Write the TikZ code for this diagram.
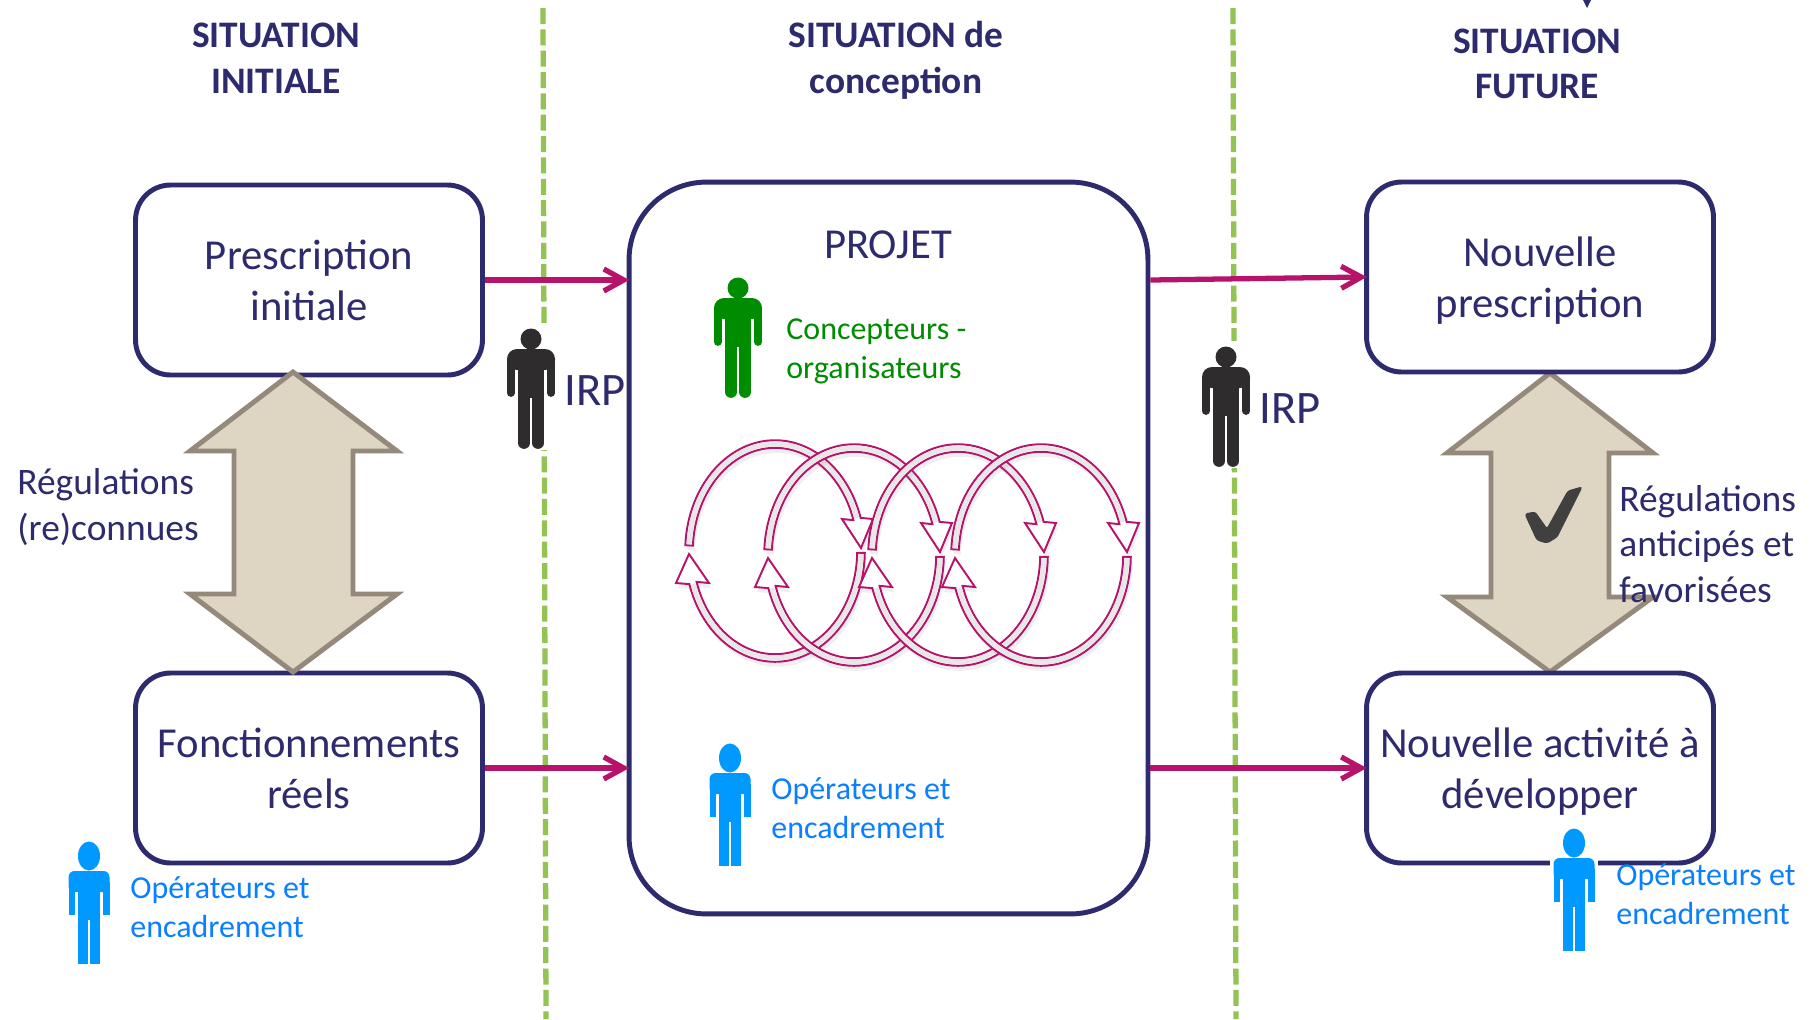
\documentclass[tikz,border=0pt]{standalone}
\usepackage{fontspec}
\setmainfont{Carlito}
\usepackage{tikz}
\usetikzlibrary{arrows.meta,shadows}
\definecolor{Marine}{HTML}{2E2A6E}
\definecolor{Fuchsia}{HTML}{B7136A}
\definecolor{Separ}{HTML}{92C353}
\definecolor{Taupe}{HTML}{94897A}
\definecolor{Sable}{HTML}{DED5C3}
\definecolor{Ciel}{HTML}{0A7FFF}
\definecolor{CielFig}{HTML}{0099FF}
\definecolor{Vert}{HTML}{008C00}
\definecolor{Encre}{HTML}{2F2C2D}
\tikzset{
  every node/.style={
    text=Marine,
    align=left,
    inner sep=0pt
  },
  state/.style={
    shape=rectangle,
    draw=Marine,
    line width=2.8pt,
    fill=white,
    rounded corners=0.7cm,
    minimum width=6.94cm,
    minimum height=3.8cm,
    align=center,
    font=\fontsize{24.3}{29}\selectfont
  },
  project/.style={
    state,
    rounded corners=1.55cm,
    minimum width=10.38cm,
    minimum height=14.64cm
  },
  heading/.style={
    align=center,
    font=\fontsize{21.3}{26}\selectfont\bfseries
  },
  regul/.style={
    anchor=west,
    font=\fontsize{21.3}{26}\selectfont
  },
  crew/.style={
    anchor=west,
    font=\fontsize{18.2}{22.3}\selectfont
  },
  irp/.style={
    anchor=west,
    font=\fontsize{26.5}{30}\selectfont
  },
  flow/.style={
    draw=Fuchsia,
    line width=3pt,
    shorten >=-1.5pt,
    -{Straight Barb[length=0.4cm,width=0.44cm,line width=3pt]}
  },
  frontier/.style={
    draw=Separ,
    line width=3pt,
    dash pattern=on 0.32cm off 0.107cm
  },
  bigarrow/.style={
    draw=Taupe,
    fill=Sable,
    line width=2.8pt
  },
  spire/.style={
    draw=Fuchsia,
    line width=1.1pt,
    fill=white,
    drop shadow={shadow xshift=0.04cm,shadow yshift=-0.1cm,opacity=0.12}
  },
  spirecore/.style={
    fill=gray!18
  },
  pics/person/.style={
    code={
      \fill[white] (-27,-5) rectangle (27,122);
      \fill[#1] (0,11) circle[radius=0.21cm];
      \fill[#1,rounded corners=0.2cm] (-24,42) -- (-24,21) -- (24,21) -- (24,42) -- cycle;
      \fill[#1] (-13,30) rectangle (13,70);
      \draw[#1,line width=0.155cm,line cap=round] (-20.2,32) -- (-20.2,65);
      \draw[#1,line width=0.155cm,line cap=round] (20.2,32) -- (20.2,65);
      \draw[#1,line width=0.235cm,line cap=round] (-7,60) -- (-7,115);
      \draw[#1,line width=0.235cm,line cap=round] (7,60) -- (7,115);
    }
  },
  pics/worker/.style={
    code={
      \fill[white] (-24,-2) rectangle (24,123);
      \fill[CielFig] (0,14) ellipse[x radius=0.22cm,y radius=0.29cm];
      \fill[CielFig,rounded corners=0.12cm] (-20.5,50) -- (-20.5,29) -- (20.5,29) -- (20.5,50) -- cycle;
      \fill[CielFig] (-20.5,40) rectangle (-14,73);
      \fill[CielFig] (14,40) rectangle (20.5,73);
      \fill[CielFig] (-11,36) rectangle (11,78);
      \fill[CielFig] (-11,78) rectangle (-1,121.5);
      \fill[CielFig] (1,78) rectangle (11,121.5);
    }
  },
  pics/loopring/.style={
    code={
      \path[spire] plot[domain=183:342.6,samples=50] ({89.8*cos(\x)},{110.8*sin(\x)})
        -- (98,-32) -- (86,-3) -- (67,-32)
        -- plot[domain=342.6:183,samples=50] ({82.2*cos(\x)},{103.2*sin(\x)}) -- cycle;
      \fill[spirecore] plot[domain=183.6:342,samples=50] ({88.4*cos(\x)},{109.4*sin(\x)})
        -- plot[domain=342:183.6,samples=50] ({83.6*cos(\x)},{104.6*sin(\x)}) -- cycle;
      \path[spire] plot[domain=1:162.6,samples=50] ({89.8*cos(\x)},{110.8*sin(\x)})
        -- (-99,32) -- (-86,3) -- (-66,32)
        -- plot[domain=162.6:1,samples=50] ({82.2*cos(\x)},{103.2*sin(\x)}) -- cycle;
      \fill[spirecore] plot[domain=1.6:162,samples=50] ({88.4*cos(\x)},{109.4*sin(\x)})
        -- plot[domain=162:1.6,samples=50] ({83.6*cos(\x)},{104.6*sin(\x)}) -- cycle;
    }
  }
}
\begin{document}
\begin{tikzpicture}[x=0.02cm,y=-0.02cm]
  \path[fill=white,use as bounding box] (0,0) rectangle (1816,1019);

  % frontieres
  \coordinate (fronta) at (543,8);
  \coordinate (frontb) at (546,1019);
  \coordinate (frontc) at (1233,8);
  \coordinate (frontd) at (1236,1019);
  \draw[frontier] (fronta) -- (frontb);
  \draw[frontier] (frontc) -- (frontd);

  % titres
  \fill[Marine] (1583,0) -- (1591,0) -- (1587,8) -- cycle;
  \node [heading] (titleinit) at (276,58) {SITUATION\\INITIALE};
  \node [heading] (titleconc) at (896,60) {SITUATION de\\conception};
  \node [heading] (titlefut) at (1537,64) {SITUATION\\FUTURE};

  % double fleche de droite, sous les boites
  \draw[bigarrow] (1550,373) -- (1653,453) -- (1609,453) -- (1609,597) -- (1653,597)
    -- (1550,672) -- (1447,597) -- (1491,597) -- (1491,453) -- (1447,453) -- cycle;

  % boites
  \node [state] (prescinit) at (309,280) {Prescription\\initiale};
  \node [state] (fonctreel) at (309,768) {Fonctionnements\\réels};
  \node [project] (projet) at (888.5,548) {};
  \node [state] (prescnew) at (1540,277) {Nouvelle\\\smash{prescription}};
  \node [state] (activnew) at (1540,768) {Nouvelle activité à\\\smash{développer}};
  \node [font=\fontsize{24.3}{29}\selectfont] (projtitle) at (888,245) {PROJET};

  % double fleche de gauche, sur les boites
  \draw[bigarrow] (293,372) -- (397,451) -- (353,451) -- (353,594) -- (397,594)
    -- (293,672) -- (190,594) -- (234,594) -- (234,451) -- (190,451) -- cycle;

  % liaisons
  \draw[flow] (prescinit.east) -- (prescinit.east -| projet.west);
  \draw[flow] (fonctreel.east) -- (fonctreel.east -| projet.west);
  \draw[flow] (projet.east |- prescinit.east) -- (prescnew.west);
  \draw[flow] (projet.east |- activnew.west) -- (activnew.west);

  % coche
  \filldraw[fill=black!75,draw=black!75,line width=0.6pt,rounded corners=0.05cm] (1525,514) -- (1535,512) -- (1547,529)
    -- (1568,491) -- (1582,487) -- (1557,537) -- (1547,543) -- (1537,540) -- cycle;

  % personnages
  \pic (irpa) at (531,328) {person=Encre};
  \pic (irpb) at (1226,346) {person=Encre};
  \pic (concept) at (738,277) {person=Vert};
  \pic (workera) at (89,842) {worker};
  \pic (workerb) at (730,744) {worker};
  \pic (workerc) at (1574,829) {worker};

  % textes
  \node [irp] (irpatext) at (564,391) {IRP};
  \node [irp] (irpbtext) at (1259,409) {IRP};
  \node [crew,text=Vert] (concepttext) at (786,351) {Concepteurs -\\organisateurs};
  \node [crew,text=Ciel] (workeratext) at (130,907) {Opérateurs et\\encadrement};
  \node [crew,text=Ciel] (workerbtext) at (771,808) {Opérateurs et\\encadrement};
  \node [crew,text=Ciel] (workerctext) at (1616,894) {Opérateurs et\\encadrement};
  \node [regul] (regula) at (17,507) {Régulations\\(re)connues};
  \node [regul] (regulb) at (1619,544) {Régulations\\anticipés et\\favorisées};

  % boucles
  \pic (ringa) at (775,551) {loopring};
  \pic (ringb) at (854,555) {loopring};
  \pic (ringc) at (958,555) {loopring};
  \pic (ringd) at (1041,555) {loopring};
\end{tikzpicture}
\end{document}
